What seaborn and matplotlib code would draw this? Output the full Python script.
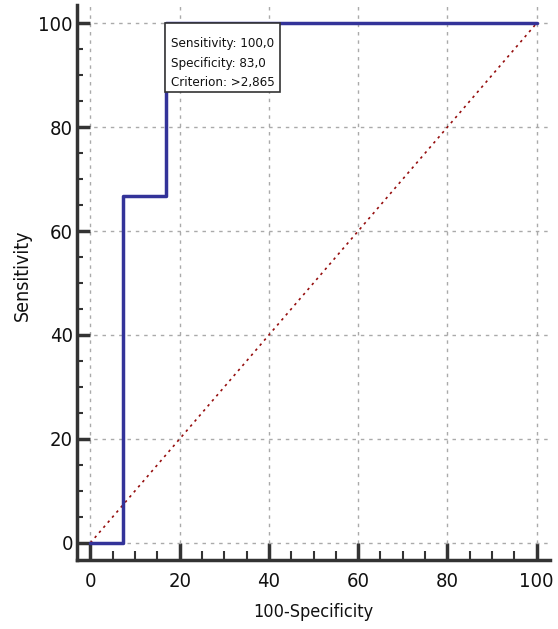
import matplotlib
matplotlib.use("Agg")
import matplotlib.pyplot as plt
import seaborn as sns
import pandas as pd
from matplotlib.ticker import MultipleLocator
from matplotlib.patches import Rectangle

# ROC step curve values (100-Specificity, Sensitivity)
fpr = [0, 7.4, 7.4, 17, 17, 100]
tpr = [0, 0, 66.7, 66.7, 100, 100]
diag_x = [0, 100]
diag_y = [0, 100]
ticks = [0, 20, 40, 60, 80, 100]
annot_lines = ["Sensitivity: 100,0", "Specificity: 83,0", "Criterion: >2,865"]
annot_anchor = (17, 100)

sns.set_style("white")
plt.rcParams['font.family'] = ['DejaVu Sans']
plt.rcParams['font.stretch'] = 'condensed'

fig = plt.figure(figsize=(5.58, 6.29), dpi=100)
ax = fig.add_axes([0.138, 0.1097, 0.8477, 0.8823])

roc = pd.DataFrame({"x": fpr, "y": tpr})
ax.plot(diag_x, diag_y, color="#960f0f", linestyle=(0, (1.5, 2.5)), linewidth=1.2, zorder=2)
sns.lineplot(data=roc, x="x", y="y", ax=ax, color="#333399", linewidth=2.5,
             sort=False, estimator=None, zorder=3)

ax.set_xlim(-3, 103)
ax.set_ylim(-3.3, 103.5)
ax.set_xticks(ticks)
ax.set_yticks(ticks)
ax.xaxis.set_minor_locator(MultipleLocator(5))
ax.yaxis.set_minor_locator(MultipleLocator(5))
ax.grid(True, which="major", color="#aaaaaa", linestyle=(0, (2.5, 3.5)), linewidth=1)
ax.set_axisbelow(True)

for s in ["top", "right"]:
    ax.spines[s].set_visible(False)
for s in ["left", "bottom"]:
    ax.spines[s].set_linewidth(2.5)
    ax.spines[s].set_color("#333333")

ax.tick_params(which="both", bottom=True, left=True, direction="in", color="#333333",
               labelcolor="#111111")
ax.tick_params(which="major", width=2.5, labelsize=14.5)
ax.tick_params(which="minor", width=1.5)
ax.tick_params(axis="x", which="major", length=12, pad=9)
ax.tick_params(axis="x", which="minor", length=6.5)
ax.tick_params(axis="y", which="major", length=9.5, pad=3)
ax.tick_params(axis="y", which="minor", length=4.5)

ax.set_xlabel("100-Specificity", fontsize=13, labelpad=8, color="#111111")
ax.set_ylabel("Sensitivity", fontsize=14, labelpad=5, color="#111111")
ax.yaxis.label.set_y(0.513)

ax.annotate("\n".join(annot_lines), xy=annot_anchor, xytext=(3.2, -10),
            textcoords="offset points", ha="left", va="top", fontsize=9.5,
            linespacing=1.65, zorder=6, color="#111111")
px, py = ax.transData.transform(annot_anchor)
ax.add_artist(Rectangle((px - 1, py - 69), 115, 69, transform=None, facecolor="white",
                        edgecolor="#333333", linewidth=1.2, zorder=5))

fig.savefig("out.png", dpi=100)
